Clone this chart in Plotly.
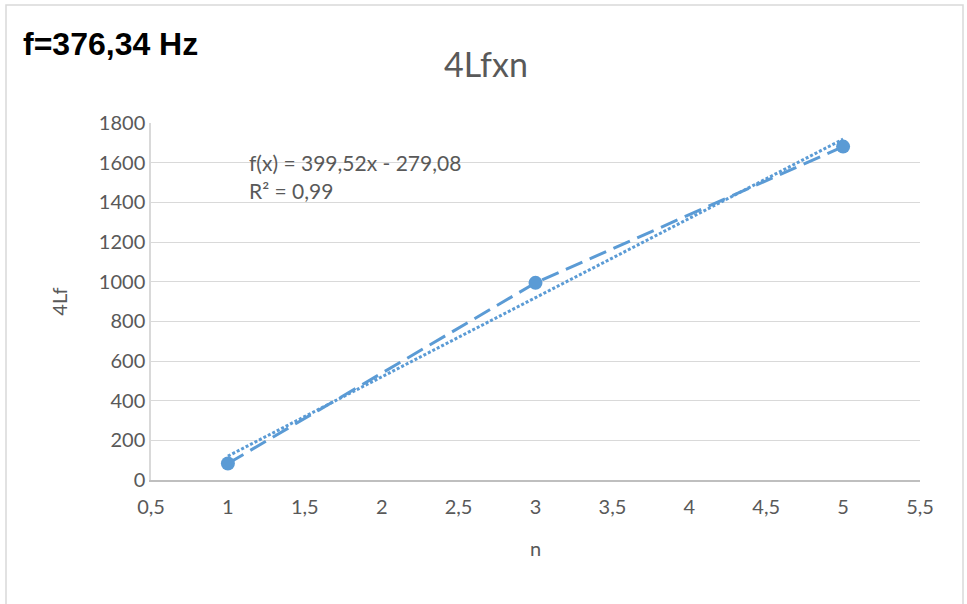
import plotly.graph_objects as go

# Data
n_values = [1, 3, 5]
four_lf = [83, 994, 1681]

# Linear trendline (as displayed)
slope = 399.52
intercept = -279.08
trend_x = [1, 5]
trend_y = [slope * x + intercept for x in trend_x]

x_tickvals = [0.5, 1, 1.5, 2, 2.5, 3, 3.5, 4, 4.5, 5, 5.5]
x_ticktext = ["0,5", "1", "1,5", "2", "2,5", "3", "3,5", "4", "4,5", "5", "5,5"]
y_tickvals = [0, 200, 400, 600, 800, 1000, 1200, 1400, 1600, 1800]
y_ticktext = ["0", "200", "400", "600", "800", "1000", "1200", "1400", "1600", "1800"]

BLUE = "#5B9BD5"
GRAY_TXT = "#595959"
FONT = "Lato"

fig = go.Figure()
fig.add_trace(go.Scatter(
    x=trend_x, y=trend_y, mode="lines",
    line=dict(color=BLUE, width=3, dash="3px,2px"),
    showlegend=False, hoverinfo="skip"))
fig.add_trace(go.Scatter(
    x=n_values, y=four_lf, mode="lines+markers",
    line=dict(color=BLUE, width=3, dash="18px,8px"),
    marker=dict(color=BLUE, size=14),
    showlegend=False))

W, H = 967, 604
L, R, T, B = 151, 47, 123, 124

def px_to_paper_x(px):
    return (px - L) / (W - L - R)

def px_to_paper_y(py):
    return (H - B - py) / (H - T - B)

eq_x = 0.5 + (247 - L) / ((W - L - R) / 5)

fig.update_layout(
    width=W, height=H,
    margin=dict(l=L, r=R, t=T, b=B),
    paper_bgcolor="white", plot_bgcolor="white",
    font=dict(family=FONT, size=20, color=GRAY_TXT),
    title=dict(text="4Lfxn", x=486 / W, xanchor="center",
               y=1 - 65 / H, yanchor="middle",
               font=dict(family=FONT, size=34, color=GRAY_TXT)),
    xaxis=dict(range=[0.5, 5.5], tickvals=x_tickvals, ticktext=x_ticktext,
               showgrid=False, zeroline=False,
               showline=True, linecolor="#BFBFBF", linewidth=1.5,
               ticks="", ticklabelstandoff=8,
               tickfont=dict(size=20, color=GRAY_TXT),
               title=dict(text="n", standoff=25,
                          font=dict(size=20, color=GRAY_TXT))),
    yaxis=dict(range=[0, 1800], tickvals=y_tickvals, ticktext=y_ticktext,
               showgrid=True, gridcolor="#D9D9D9", gridwidth=1,
               zeroline=False, showline=True, linecolor="#D9D9D9",
               linewidth=1.5, ticks="", tickfont=dict(size=20, color=GRAY_TXT),
               title=dict(text="4Lf", standoff=26,
                          font=dict(size=20, color=GRAY_TXT))),
    shapes=[dict(type="rect", xref="paper", yref="paper",
                 x0=px_to_paper_x(6), x1=px_to_paper_x(963),
                 y0=px_to_paper_y(640), y1=px_to_paper_y(5),
                 line=dict(color="#D9D9D9", width=1.5),
                 fillcolor="rgba(0,0,0,0)", layer="below")],
    annotations=[
        dict(text="<b>f=376,34 Hz</b>", xref="paper", yref="paper",
             x=px_to_paper_x(21), y=px_to_paper_y(44),
             xanchor="left", yanchor="middle", showarrow=False,
             font=dict(family="Liberation Sans", size=32, color="black")),
        dict(text="f(x) = 399,52x - 279,08", xref="x", yref="y",
             x=eq_x, y=1603,
             xanchor="left", yanchor="middle", showarrow=False,
             font=dict(family=FONT, size=21, color=GRAY_TXT)),
        dict(text="R² = 0,99", xref="x", yref="y",
             x=eq_x, y=1462,
             xanchor="left", yanchor="middle", showarrow=False,
             font=dict(family=FONT, size=21, color=GRAY_TXT)),
    ],
)

fig.write_html("out.html",
               config={"displayModeBar": False},
               post_script="document.body.style.margin='0';document.body.style.overflow='hidden';")
